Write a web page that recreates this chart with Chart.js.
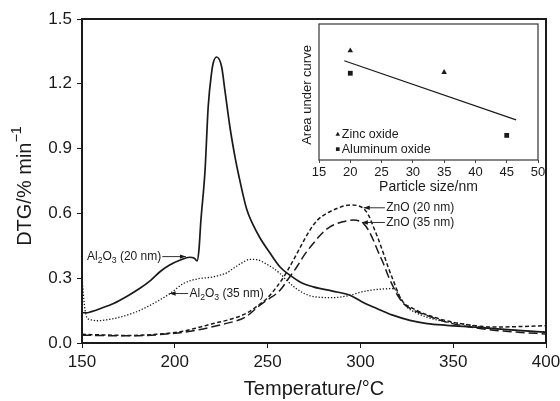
<!DOCTYPE html>
<html lang="en">
<head>
    <meta charset="UTF-8">
    <title>DTG curves</title>
    <script src="https://cdn.jsdelivr.net/npm/chart.js"></script>
    <style>
        body { margin: 0; background: #fff; }
        .wrap { position: relative; width: 560px; height: 401px; }
        #mainChart { position: absolute; left: 0; top: 0; }
        #insetChart { position: absolute; left: 290px; top: 20px; }
    </style>
</head>
<body>
    <div class="wrap">
        <canvas id="mainChart" width="560" height="401"></canvas>
        <canvas id="insetChart" width="264" height="182"></canvas>
    </div>
    <script>
        // Al2O3 (20 nm) - solid
        const al20Temp = [150, 153, 155, 160, 167, 175, 181, 187, 192, 197, 203, 208, 210.5, 212, 213, 214, 216.3, 218, 219.8, 220.7, 222.5, 225.2, 227, 229.7, 232.4, 234.2, 238.7, 242, 246, 251, 256.7, 262, 268, 274.6, 285, 294.4, 301, 308.8, 317, 326.7, 336, 346.5, 360, 371.6, 385, 400];
        const al20Dtg  = [0.14, 0.14, 0.145, 0.16, 0.183, 0.22, 0.252, 0.29, 0.33, 0.36, 0.384, 0.397, 0.392, 0.38, 0.43, 0.56, 0.80, 1.095, 1.25, 1.296, 1.324, 1.28, 1.17, 1.0, 0.863, 0.786, 0.62, 0.55, 0.485, 0.42, 0.352, 0.314, 0.28, 0.26, 0.24, 0.221, 0.19, 0.16, 0.13, 0.105, 0.09, 0.082, 0.074, 0.067, 0.058, 0.05];

        // Al2O3 (35 nm) - dotted
        const al35Temp = [150, 151, 152.5, 155, 158, 164, 170.5, 178, 185, 191, 197.4, 204.6, 209, 213.6, 220, 224.4, 228, 231.5, 236, 240.5, 244, 249.5, 256.7, 260.3, 265, 270, 276.4, 285, 294.4, 300, 305.2, 312, 317.7, 319.5, 321.3, 325, 330, 335.7, 345, 353.7, 362, 371.6, 385, 400];
        const al35Dtg  = [0.31, 0.2, 0.12, 0.107, 0.103, 0.108, 0.12, 0.14, 0.167, 0.195, 0.229, 0.275, 0.29, 0.299, 0.305, 0.314, 0.325, 0.345, 0.37, 0.387, 0.386, 0.365, 0.322, 0.29, 0.255, 0.228, 0.213, 0.21, 0.221, 0.235, 0.244, 0.25, 0.252, 0.24, 0.213, 0.167, 0.14, 0.12, 0.1, 0.09, 0.078, 0.067, 0.058, 0.05];

        // ZnO (20 nm) - short dash
        const zn20Temp = [150, 175, 190, 202.8, 212, 220.7, 230, 238.7, 245, 249.5, 254.9, 259, 263.9, 268, 272.8, 277, 281.8, 288, 294.4, 298, 301.6, 304.5, 307, 309.7, 312.4, 315, 317.7, 321.3, 324, 326.7, 333, 339.3, 346, 353.7, 362, 371.6, 385, 400];
        const zn20Dtg  = [0.04, 0.035, 0.04, 0.052, 0.07, 0.09, 0.11, 0.138, 0.175, 0.205, 0.26, 0.31, 0.384, 0.45, 0.523, 0.57, 0.6, 0.625, 0.639, 0.637, 0.623, 0.59, 0.538, 0.48, 0.415, 0.35, 0.29, 0.213, 0.18, 0.167, 0.14, 0.12, 0.104, 0.09, 0.08, 0.074, 0.076, 0.08];

        // ZnO (35 nm) - long dash
        const zn35Temp = [150, 175, 200, 212, 225, 238, 245.9, 250, 256.7, 261, 265.7, 270, 274.6, 279, 283.6, 290, 296.2, 299, 301.6, 304.5, 307, 309.7, 312.4, 315, 317.7, 320.5, 323.1, 328, 335.7, 345, 353.7, 362, 371.6, 385, 400];
        const zn35Dtg  = [0.036, 0.033, 0.045, 0.06, 0.085, 0.12, 0.175, 0.2, 0.244, 0.295, 0.352, 0.41, 0.461, 0.505, 0.538, 0.56, 0.569, 0.566, 0.554, 0.52, 0.476, 0.42, 0.368, 0.31, 0.26, 0.215, 0.183, 0.155, 0.128, 0.1, 0.082, 0.07, 0.059, 0.05, 0.042];

        // inset: area under curve vs particle size (no scale given, relative units)
        const zincSize = [20, 35];
        const zincArea = [0.804, 0.645];
        const aluSize = [20, 45];
        const aluArea = [0.638, 0.181];
        const trendSize = [19.04, 46.5];
        const trendArea = [0.73, 0.295];

        const FONT = '"Liberation Sans", Arial, Helvetica, sans-serif';
        const INK = '#1a1a1a';

        function pts(xs, ys) {
            return xs.map((x, i) => ({ x: x, y: ys[i] }));
        }

        // draws text made of parts, some of them subscript / superscript
        function drawRichText(ctx, parts, x, y, size) {
            let cx = x;
            parts.forEach(p => {
                const s = p.sub || p.sup ? size * 0.72 : size;
                ctx.font = s + 'px ' + FONT;
                const dy = p.sub ? size * 0.35 : p.sup ? -size * 0.38 : 0;
                ctx.fillText(p.t, cx, y + dy);
                cx += ctx.measureText(p.t).width;
            });
            return cx - x;
        }

        function richWidth(ctx, parts, size) {
            let w = 0;
            parts.forEach(p => {
                const s = p.sub || p.sup ? size * 0.72 : size;
                ctx.font = s + 'px ' + FONT;
                w += ctx.measureText(p.t).width;
            });
            return w;
        }

        function arrow(ctx, x1, y1, x2, y2) {
            ctx.beginPath();
            ctx.moveTo(x1, y1);
            ctx.lineTo(x2, y2);
            ctx.stroke();
            const a = Math.atan2(y2 - y1, x2 - x1);
            ctx.beginPath();
            ctx.moveTo(x2, y2);
            ctx.lineTo(x2 - 6 * Math.cos(a) + 2.2 * Math.sin(a), y2 - 6 * Math.sin(a) - 2.2 * Math.cos(a));
            ctx.lineTo(x2 - 6 * Math.cos(a) - 2.2 * Math.sin(a), y2 - 6 * Math.sin(a) + 2.2 * Math.cos(a));
            ctx.closePath();
            ctx.fill();
        }

        // labels with arrows, positions given in data units
        const notes = [
            { parts: [{ t: 'Al' }, { t: '2', sub: true }, { t: 'O' }, { t: '3', sub: true }, { t: ' (20 nm)' }], textAt: 152.7, y: 0.40, from: 192.5, to: 206 },
            { parts: [{ t: 'Al' }, { t: '2', sub: true }, { t: 'O' }, { t: '3', sub: true }, { t: ' (35 nm)' }], textAt: 207.9, y: 0.229, from: 207.2, to: 197.2 },
            { parts: [{ t: 'ZnO (20 nm)' }], textAt: 313.9, y: 0.626, from: 313.2, to: 301.8 },
            { parts: [{ t: 'ZnO (35 nm)' }], textAt: 313.9, y: 0.558, from: 313.2, to: 300.8 }
        ];

        const mainDecor = {
            id: 'mainDecor',
            afterDraw(chart) {
                const { ctx, chartArea: a, scales: { x, y } } = chart;
                ctx.save();
                // frame
                ctx.strokeStyle = INK;
                ctx.lineWidth = 2;
                ctx.strokeRect(a.left, a.top, a.right - a.left, a.bottom - a.top);

                // annotations
                ctx.fillStyle = INK;
                ctx.strokeStyle = '#333';
                ctx.lineWidth = 1;
                ctx.textBaseline = 'middle';
                ctx.textAlign = 'left';
                notes.forEach(n => {
                    const py = y.getPixelForValue(n.y);
                    const tx = x.getPixelForValue(n.textAt);
                    if (n.to > n.from) {
                        const w = richWidth(ctx, n.parts, 12);
                        drawRichText(ctx, n.parts, tx, py, 12);
                        arrow(ctx, tx + w + 1, py, x.getPixelForValue(n.to), py);
                    } else {
                        drawRichText(ctx, n.parts, tx, py, 12);
                        arrow(ctx, x.getPixelForValue(n.from), py, x.getPixelForValue(n.to), py);
                    }
                });

                // y title with superscript
                const yTitle = [{ t: 'DTG/% min' }, { t: '\u22121', sup: true }];
                ctx.translate(a.left - 57, (a.top + a.bottom) / 2 + 5);
                ctx.rotate(-Math.PI / 2);
                const w = richWidth(ctx, yTitle, 20);
                drawRichText(ctx, yTitle, -w / 2, 0, 20);
                ctx.restore();
            }
        };

        new Chart(document.getElementById('mainChart'), {
            type: 'line',
            data: {
                datasets: [
                    { label: 'Al2O3 (20 nm)', data: pts(al20Temp, al20Dtg), borderColor: INK, borderWidth: 1.7 },
                    { label: 'Al2O3 (35 nm)', data: pts(al35Temp, al35Dtg), borderColor: INK, borderWidth: 1.3, borderDash: [1.3, 1.8] },
                    { label: 'ZnO (20 nm)', data: pts(zn20Temp, zn20Dtg), borderColor: INK, borderWidth: 1.5, borderDash: [4, 2.5] },
                    { label: 'ZnO (35 nm)', data: pts(zn35Temp, zn35Dtg), borderColor: INK, borderWidth: 1.5, borderDash: [9, 4] }
                ]
            },
            options: {
                responsive: false,
                animation: false,
                devicePixelRatio: 1,
                elements: { point: { radius: 0 }, line: { cubicInterpolationMode: 'monotone', fill: false } },
                layout: { padding: { top: 19, right: 14, left: 0, bottom: 0 } },
                plugins: { legend: { display: false }, tooltip: { enabled: false } },
                scales: {
                    x: {
                        type: 'linear',
                        min: 150,
                        max: 400,
                        afterFit: s => { s.height = 58; s.paddingLeft = 0; s.paddingRight = 0; },
                        border: { display: true, color: INK, width: 2 },
                        grid: { display: true, drawOnChartArea: false, tickLength: 5, color: INK },
                        ticks: { stepSize: 50, padding: 4, color: INK, font: { family: FONT, size: 17 } },
                        title: { display: true, text: 'Temperature/\u00B0C', color: INK, padding: { top: 0, bottom: 0 }, font: { family: FONT, size: 20 } }
                    },
                    y: {
                        min: 0,
                        max: 1.5,
                        afterFit: s => { s.width = 82; s.paddingTop = 0; s.paddingBottom = 0; },
                        border: { display: true, color: INK, width: 2 },
                        grid: { display: true, drawOnChartArea: false, tickLength: 5, color: INK },
                        ticks: { stepSize: 0.3, padding: 5, color: INK, font: { family: FONT, size: 17 }, callback: v => v.toFixed(1) }
                    }
                }
            },
            plugins: [mainDecor]
        });

        // inset chart
        const insetDecor = {
            id: 'insetDecor',
            afterDraw(chart) {
                const { ctx, chartArea: a, scales: { x, y } } = chart;
                ctx.save();
                ctx.strokeStyle = '#444';
                ctx.lineWidth = 1.3;
                ctx.strokeRect(a.left, a.top, a.right - a.left, a.bottom - a.top);

                // legend inside the box
                ctx.fillStyle = INK;
                ctx.strokeStyle = INK;
                ctx.textBaseline = 'middle';
                ctx.font = '12.5px ' + FONT;
                const lx = x.getPixelForValue(18);
                const rows = [['triangle', 'Zinc oxide', 0.188], ['rect', 'Aluminum oxide', 0.08]];
                rows.forEach(r => {
                    const py = y.getPixelForValue(r[2]);
                    Chart.helpers.drawPoint(ctx, { pointStyle: r[0], radius: 2.6, borderWidth: 0 }, lx, py);
                    ctx.fillText(r[1], lx + 4, py);
                });

                // y title
                ctx.font = '13px ' + FONT;
                ctx.textAlign = 'center';
                ctx.translate(a.left - 12, (a.top + a.bottom) / 2 + 3);
                ctx.rotate(-Math.PI / 2);
                ctx.fillText('Area under curve', 0, 0);
                ctx.restore();
            }
        };

        new Chart(document.getElementById('insetChart'), {
            type: 'scatter',
            data: {
                datasets: [
                    { label: 'Zinc oxide', data: pts(zincSize, zincArea), pointStyle: 'triangle', pointRadius: 3.2, backgroundColor: INK, borderColor: INK, borderWidth: 0 },
                    { label: 'Aluminum oxide', data: pts(aluSize, aluArea), pointStyle: 'rect', pointRadius: 3.4, backgroundColor: INK, borderColor: INK, borderWidth: 0 },
                    { type: 'line', label: 'trend', data: pts(trendSize, trendArea), borderColor: INK, borderWidth: 1.2, pointRadius: 0 }
                ]
            },
            options: {
                responsive: false,
                animation: false,
                devicePixelRatio: 1,
                layout: { padding: { top: 2, right: 16, left: 0, bottom: 0 } },
                plugins: { legend: { display: false }, tooltip: { enabled: false } },
                scales: {
                    x: {
                        type: 'linear',
                        min: 15,
                        max: 50,
                        afterFit: s => { s.height = 42; s.paddingLeft = 0; s.paddingRight = 0; },
                        border: { display: false },
                        grid: { display: true, drawOnChartArea: false, tickLength: 3, color: '#444' },
                        ticks: { stepSize: 5, padding: 2, color: INK, font: { family: FONT, size: 13 } },
                        title: { display: true, text: 'Particle size/nm', color: INK, padding: { top: 0, bottom: 6 }, font: { family: FONT, size: 14 } }
                    },
                    y: {
                        min: 0,
                        max: 1,
                        afterFit: s => { s.width = 29; s.paddingTop = 0; s.paddingBottom = 0; },
                        border: { display: false },
                        grid: { display: false },
                        ticks: { display: false }
                    }
                }
            },
            plugins: [insetDecor]
        });
    </script>
</body>
</html>
